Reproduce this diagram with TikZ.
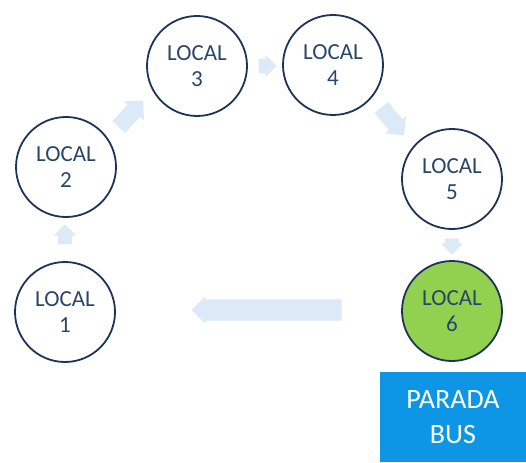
\documentclass[tikz,border=0pt]{standalone}
\usepackage{fontspec}
\setmainfont{Carlito}
\usetikzlibrary{shapes.arrows}
\definecolor{ringc}{RGB}{28,52,90}
\definecolor{textc}{RGB}{40,70,105}
\definecolor{greenc}{RGB}{146,208,80}
\definecolor{busc}{RGB}{14,150,230}
\definecolor{arrc}{RGB}{220,233,247}
\tikzset{
  localnode/.style={circle, draw=ringc, line width=1.8pt, minimum size=100pt, inner sep=0pt,
    align=center, text=textc, font=\fontsize{23}{26}\selectfont},
  flowarrow/.style={single arrow, fill=arrc, draw=none, inner sep=0pt, text depth=0pt,
    minimum width=0pt, single arrow head extend=4pt, single arrow head indent=0pt},
  busbox/.style={rectangle, fill=busc, draw=none, minimum width=146pt, minimum height=90pt,
    inner sep=0pt, align=center, text=white, font=\fontsize{28}{35}\selectfont}
}
\begin{document}
\begin{tikzpicture}[x=1pt,y=-1pt]
\useasboundingbox (0,0) rectangle (526,462);
\node[localnode] (l1) at (65,312) {LOCAL\\1};
\node[localnode] (l2) at (66,167) {LOCAL\\2};
\node[localnode] (l3) at (197,66) {LOCAL\\3};
\node[localnode] (l4) at (333,65) {LOCAL\\4};
\node[localnode] (l5) at (452,179) {LOCAL\\5};
\node[localnode, fill=greenc] (l6) at (452,311) {LOCAL\\6};
\node[busbox] (bus) at (453,417) {PARADA\\BUS};
\node[flowarrow, minimum height=20pt, text height=14pt, rotate=90] (a12) at (65,238) {};
\node[flowarrow, minimum height=36pt, text height=17pt, single arrow head extend=5pt, rotate=47] (a23) at (128,117) {};
\node[flowarrow, minimum height=18pt, text height=14pt, rotate=0] (a34) at (264,66) {};
\node[flowarrow, minimum height=36pt, text height=17pt, single arrow head extend=5pt, rotate=-51] (a45) at (390,118) {};
\node[flowarrow, minimum height=16pt, text height=14pt, rotate=-90] (a56) at (452,243) {};
\node[flowarrow, minimum height=150pt, text height=21pt, single arrow head extend=3pt, rotate=180] (a61) at (272,310) {};
\end{tikzpicture}
\end{document}
